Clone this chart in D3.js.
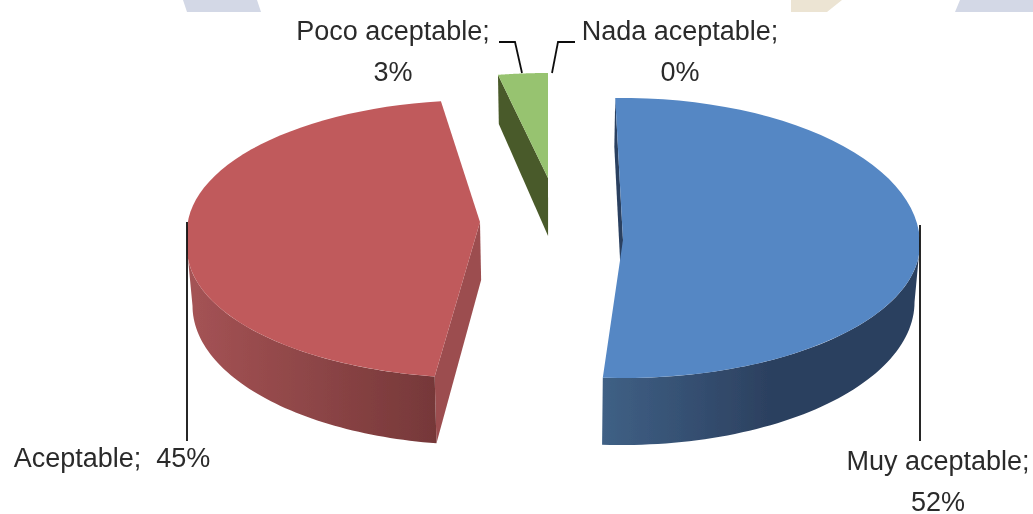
<!DOCTYPE html>
<html>
<head>
<meta charset="utf-8">
<script src="https://cdn.jsdelivr.net/npm/d3@7"></script>
<style>
  html, body { margin: 0; padding: 0; background: #fff; }
  svg { display: block; }
  text { font-family: "Liberation Sans", Arial, sans-serif; fill: #2b2b2b; }
</style>
</head>
<body>
<div id="chart"></div>
<script>
const categories = ['Muy aceptable', 'Aceptable', 'Poco aceptable', 'Nada aceptable'];
const values = [51.5, 45.4, 3.0, 0.1];
const shownPercents = [52, 45, 3, 0];

const width = 1033;
const height = 514;
const toRad = Math.PI / 180;
const pivotX = 555;      // the lower rim is scaled towards this x
const lowScale = 0.985;

// Each slice is pulled out of the pie by hand: apex position and radii.
// The back and front arcs have their own centre y, the picture has some perspective.
const sliceLayout = [
  { cx: 623, ay: 240, cyBack: 244, cyFront: 244, rx: 297, back: 146, front: 134, spin: 0, top: '#5587c4', wall: '#2a4060', rimFrom: '#3f6085', rimTo: '#2b3f5e', rimStop: 0.55 },
  { cx: 480, ay: 222, cyBack: 232, cyFront: 248, rx: 293, back: 132, front: 130, spin: 5, top: '#c05a5c', wall: '#9c4e50', rimFrom: '#a55355', rimTo: '#763839', rimStop: 1 },
  { cx: 548, ay: 178, cyBack: 178, cyFront: 178, rx: 267, back: 105, front: 105, spin: 1.86, top: '#97c36f', wall: '#4a5a29', rimFrom: '#4a5a29', rimTo: '#4a5a29', rimStop: 1 }
];

const pie = d3.pie().sort(null).value(d => d).startAngle(-1.5 * toRad).endAngle(358.5 * toRad);
const arcs = pie(values);

const svg = d3.select('#chart')
  .append('svg')
  .attr('width', width)
  .attr('height', height);

const defs = svg.append('defs');
defs.append('filter')
  .attr('id', 'soft')
  .append('feGaussianBlur')
  .attr('stdDeviation', 0.55);

// Faded logo pieces cut off at the top of the picture
const bg = svg.append('g').attr('filter', 'url(#soft)');
const bgLine = d3.line();
[
  { fill: '#d3d8e6', pts: [[183, 0], [187, 12], [261, 12], [257, 0]] },
  { fill: '#ece4d3', pts: [[791, 0], [791, 12], [827, 12], [842, 0]] },
  { fill: '#d3d8e6', pts: [[960, 0], [955, 12], [1033, 12], [1033, 0]] }
].forEach(p => {
  bg.append('path').attr('d', bgLine(p.pts) + 'Z').attr('fill', p.fill);
});

// Depth of the pie wall, a bit more at the front than at the back
const depth = (r, a) => 58 + r * (-Math.cos(a)) * 9;

const apex = (l, low) => {
  if (!low) return [l.cx, l.ay];
  return [pivotX + (l.cx - pivotX) * lowScale, l.ay + 58];
};

const project = (l, a, low) => {
  const c = Math.cos(a);
  const x = l.cx + l.rx * Math.sin(a);
  const y = c > 0 ? l.cyBack - l.back * c : l.cyFront - l.front * c;
  if (!low) return [x, y];
  return [pivotX + (x - pivotX) * lowScale, y + depth(1, a)];
};

const sampleAngles = (a0, a1) => d3.range(0, 61).map(i => a0 + (a1 - a0) * i / 60);
const path = d3.line();

const plot = svg.append('g').attr('filter', 'url(#soft)');

sliceLayout.forEach((l, i) => {
  const a0 = arcs[i].startAngle + l.spin * toRad;
  const a1 = arcs[i].endAngle + l.spin * toRad;
  const g = plot.append('g');

  // wall of the starting cut
  g.append('path')
    .attr('d', path([apex(l, false), project(l, a0, false), project(l, a0, true), apex(l, true)]) + 'Z')
    .attr('fill', l.wall);

  // outer rim, only the front half can be seen
  const r0 = Math.max(a0, 90 * toRad);
  const r1 = Math.min(a1, 270 * toRad);
  if (r1 > r0) {
    const gradId = 'rim' + i;
    const xs = [project(l, r0, false)[0], project(l, r1, false)[0]];
    const grad = defs.append('linearGradient')
      .attr('id', gradId)
      .attr('gradientUnits', 'userSpaceOnUse')
      .attr('x1', d3.min(xs)).attr('x2', d3.max(xs))
      .attr('y1', 0).attr('y2', 0);
    grad.append('stop').attr('offset', 0).attr('stop-color', l.rimFrom);
    grad.append('stop').attr('offset', l.rimStop).attr('stop-color', l.rimTo);
    const angles = sampleAngles(r0, r1);
    const rim = angles.map(a => project(l, a, false))
      .concat(angles.slice().reverse().map(a => project(l, a, true)));
    g.append('path').attr('d', path(rim) + 'Z').attr('fill', `url(#${gradId})`);
  }

  // top face
  const top = [apex(l, false)].concat(sampleAngles(a0, a1).map(a => project(l, a, false)));
  g.append('path').attr('d', path(top) + 'Z').attr('fill', l.top);
});

// Leader lines
const leaders = plot.append('g')
  .attr('fill', 'none')
  .attr('stroke', '#111')
  .attr('stroke-width', 1.8);
[
  [[920, 225], [920, 441]],
  [[187, 222], [187, 441]],
  [[522, 73], [515, 42], [499, 42]],
  [[552, 73], [558, 42], [575, 42]]
].forEach(pts => leaders.append('path').attr('d', path(pts)));

// Data labels
const labelLines = [
  [`${categories[0]};`, `${shownPercents[0]}%`],
  [`${categories[1]};\u00a0\u00a0${shownPercents[1]}%`],
  [`${categories[2]};`, `${shownPercents[2]}%`],
  [`${categories[3]};`, `${shownPercents[3]}%`]
];
const labelPos = [
  { x: 938, y: 470 },
  { x: 112, y: 467 },
  { x: 393, y: 40 },
  { x: 680, y: 40 }
];
const labels = svg.append('g').attr('filter', 'url(#soft)');
labelLines.forEach((lines, i) => {
  lines.forEach((t, j) => {
    labels.append('text')
      .attr('x', labelPos[i].x)
      .attr('y', labelPos[i].y + j * 41)
      .attr('text-anchor', 'middle')
      .style('font-size', '27px')
      .text(t);
  });
});
</script>
</body>
</html>
